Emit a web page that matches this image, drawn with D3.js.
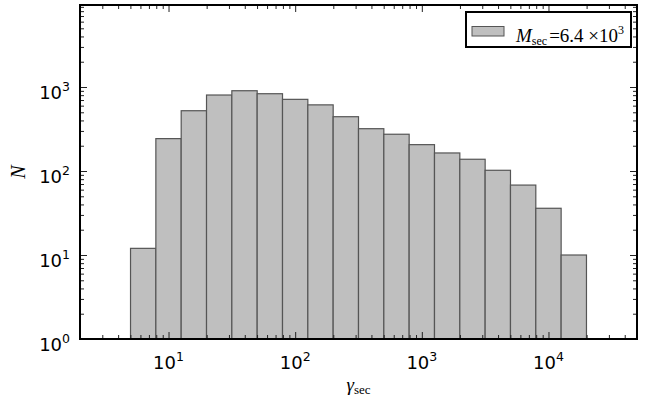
<!DOCTYPE html>
<html>
<head>
<meta charset="utf-8">
<script src="https://cdn.jsdelivr.net/npm/d3@7"></script>
<style>
  body { margin: 0; background: #fff; }
  svg { display: block; }
  .tick line { stroke: #222; }
  .domain { display: none; }
</style>
</head>
<body>
<div id="chart"></div>
<script>
// histogram bins, in log10(gamma_sec), 0.2 decade wide
const binEdgesLog = [0.7, 0.9, 1.1, 1.3, 1.5, 1.7, 1.9, 2.1, 2.3, 2.5, 2.7, 2.9, 3.1, 3.3, 3.5, 3.7, 3.9, 4.1, 4.3];
const counts = [12, 243, 522, 803, 903, 832, 713, 613, 443, 319, 274, 206, 164, 138, 102, 68, 36, 10];
const xMajor = [10, 100, 1000, 10000];
const xMajorExp = ["1", "2", "3", "4"];
const yMajor = [1, 10, 100, 1000];
const yMajorExp = ["0", "1", "2", "3"];
const legendLabel = "6.4";
const legendExp = "3";

const margin = {top: 5, right: 8, bottom: 60, left: 80};
const W = 645, H = 399;
const width = W - margin.left - margin.right;
const height = H - margin.top - margin.bottom;

const svg = d3.select("#chart").append("svg")
  .attr("width", W)
  .attr("height", H);

const g = svg.append("g")
  .attr("transform", "translate(" + margin.left + "," + margin.top + ")");

const x = d3.scaleLog().domain([2, 5e4]).range([0, width]);
const y = d3.scaleLog().domain([1, 9470]).range([height, 0]);

function minorTicks(scale) {
  const [a, b] = scale.domain();
  const out = [];
  for (let e = Math.floor(Math.log10(a)); e <= Math.ceil(Math.log10(b)); e++) {
    for (let k = 2; k <= 9; k++) {
      const v = k * Math.pow(10, e);
      if (v >= a && v <= b) out.push(v);
    }
  }
  return out;
}

const bins = counts.map((c, i) => ({
  lo: Math.pow(10, binEdgesLog[i]),
  hi: Math.pow(10, binEdgesLog[i + 1]),
  n: c
}));

// bars
g.selectAll("rect.bar")
  .data(bins)
  .enter().append("rect")
  .attr("class", "bar")
  .attr("x", d => x(d.lo))
  .attr("y", d => y(d.n))
  .attr("width", d => x(d.hi) - x(d.lo))
  .attr("height", d => y(1) - y(d.n))
  .attr("fill", "#bfbfbf")
  .attr("stroke", "#555")
  .attr("stroke-width", 1.2);

// ticks on all four sides, pointing inward
const major = 7, minor = 4;
function addAxis(axisFn, scale, vals, size, transform) {
  g.append("g")
    .attr("transform", transform)
    .call(axisFn(scale).tickValues(vals).tickSize(size).tickFormat(""))
    .selectAll("line").attr("stroke-width", 1);
}
addAxis(d3.axisBottom, x, xMajor, -major, "translate(0," + height + ")");
addAxis(d3.axisBottom, x, minorTicks(x), -minor, "translate(0," + height + ")");
addAxis(d3.axisTop, x, xMajor, -major, "translate(0,0)");
addAxis(d3.axisTop, x, minorTicks(x), -minor, "translate(0,0)");
addAxis(d3.axisLeft, y, yMajor, -major, "translate(0,0)");
addAxis(d3.axisLeft, y, minorTicks(y), -minor, "translate(0,0)");
addAxis(d3.axisRight, y, yMajor, -major, "translate(" + width + ",0)");
addAxis(d3.axisRight, y, minorTicks(y), -minor, "translate(" + width + ",0)");

// frame
g.append("rect")
  .attr("width", width)
  .attr("height", height)
  .attr("fill", "none")
  .attr("stroke", "#000")
  .attr("stroke-width", 2);

// tick labels
const tickFont = "DejaVu Sans, sans-serif";
const xl = g.selectAll("text.xlab")
  .data(xMajor)
  .enter().append("text")
  .attr("class", "xlab")
  .attr("x", d => x(d))
  .attr("y", height + 30)
  .attr("text-anchor", "middle")
  .attr("font-family", tickFont)
  .attr("font-size", 18);
xl.append("tspan").text("10");
xl.append("tspan").attr("dy", -8).attr("font-size", 12.5).text((d, i) => xMajorExp[i]);

const yl = g.selectAll("text.ylab")
  .data(yMajor)
  .enter().append("text")
  .attr("class", "ylab")
  .attr("x", -10)
  .attr("y", d => y(d) + 12)
  .attr("text-anchor", "end")
  .attr("font-family", tickFont)
  .attr("font-size", 18);
yl.append("tspan").text("10");
yl.append("tspan").attr("dy", -8).attr("font-size", 12.5).text((d, i) => yMajorExp[i]);

// axis titles
const mathFont = "Liberation Serif, DejaVu Serif, serif";
const xt = svg.append("text")
  .attr("x", margin.left + width / 2 + 0)
  .attr("y", 391)
  .attr("text-anchor", "middle")
  .attr("font-family", mathFont)
  .attr("font-size", 19);
xt.append("tspan").attr("font-style", "italic").text("γ");
xt.append("tspan").attr("font-size", 13).attr("dy", 3).text("sec");

svg.append("text")
  .attr("transform", "translate(25," + (margin.top + height / 2) + ") rotate(-90)")
  .attr("text-anchor", "middle")
  .attr("font-family", mathFont)
  .attr("font-style", "italic")
  .attr("font-size", 20)
  .text("N");

// legend
const lg = svg.append("g").attr("transform", "translate(466,12)");
lg.append("rect")
  .attr("width", 165)
  .attr("height", 35)
  .attr("fill", "#fff")
  .attr("stroke", "#000")
  .attr("stroke-width", 2);
lg.append("rect")
  .attr("x", 6).attr("y", 14.5)
  .attr("width", 32).attr("height", 9.5)
  .attr("fill", "#bfbfbf")
  .attr("stroke", "#555")
  .attr("stroke-width", 1);
const lt = lg.append("text")
  .attr("x", 50)
  .attr("y", 29.5)
  .attr("font-family", mathFont)
  .attr("font-size", 19);
lt.append("tspan").attr("font-style", "italic").text("M");
lt.append("tspan").attr("font-size", 12).attr("dy", 3).text("sec");
lt.append("tspan").attr("dy", -3).attr("dx", 2).text("=" + legendLabel + " ×10");
lt.append("tspan").attr("font-size", 12).attr("dy", -8).text(legendExp);
</script>
</body>
</html>
